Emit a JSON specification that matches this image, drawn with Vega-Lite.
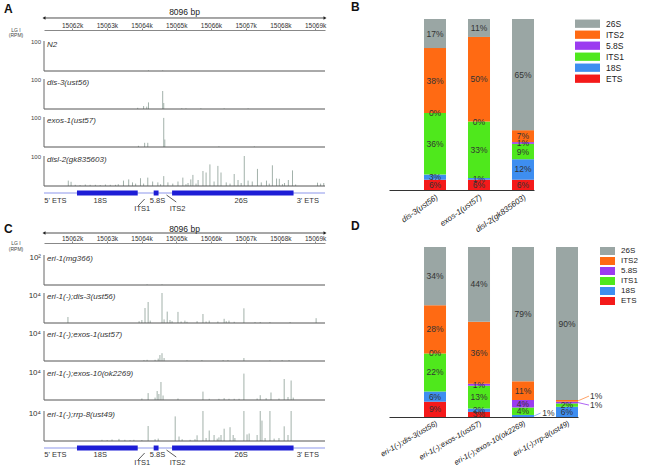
{
"$schema":"https://vega.github.io/schema/vega-lite/v6.json",
"padding":{"left":4,"top":0,"right":0,"bottom":0},
"config":{"view":{"stroke":null},"font":"Liberation Sans","axis":{"labelFont":"Liberation Sans","titleFont":"Liberation Sans"},"legend":{"labelFont":"Liberation Sans"},"title":{"font":"Liberation Sans"}},
"datasets":{
"tr":[
{"t":"A1","p":15064.20,"h":2},{"t":"A1","p":15064.61,"h":2},
{"t":"A2","p":15063.89,"h":4},{"t":"A2","p":15064.06,"h":10},{"t":"A2","p":15064.15,"h":8},{"t":"A2","p":15064.20,"h":22},{"t":"A2","p":15064.61,"h":60},{"t":"A2","p":15064.64,"h":20},{"t":"A2","p":15065.16,"h":2},{"t":"A2","p":15065.28,"h":2},{"t":"A2","p":15065.71,"h":2},{"t":"A2","p":15066.38,"h":2},{"t":"A2","p":15067.07,"h":2},
{"t":"A3","p":15063.91,"h":4},{"t":"A3","p":15064.09,"h":14},{"t":"A3","p":15064.18,"h":14},{"t":"A3","p":15064.64,"h":97},{"t":"A3","p":15064.67,"h":25},{"t":"A3","p":15066.23,"h":2},{"t":"A3","p":15067.25,"h":2},
{"t":"A4","p":15061.89,"h":18},{"t":"A4","p":15061.97,"h":14},{"t":"A4","p":15062.09,"h":4},{"t":"A4","p":15062.23,"h":3},{"t":"A4","p":15062.38,"h":5},{"t":"A4","p":15062.52,"h":4},{"t":"A4","p":15062.67,"h":4},{"t":"A4","p":15062.81,"h":3},{"t":"A4","p":15062.96,"h":5},{"t":"A4","p":15063.10,"h":4},{"t":"A4","p":15063.25,"h":4},{"t":"A4","p":15063.33,"h":6},{"t":"A4","p":15063.48,"h":18},{"t":"A4","p":15063.63,"h":22},{"t":"A4","p":15063.74,"h":12},{"t":"A4","p":15063.83,"h":8},{"t":"A4","p":15063.97,"h":26},{"t":"A4","p":15064.06,"h":8},{"t":"A4","p":15064.18,"h":28},{"t":"A4","p":15064.32,"h":15},{"t":"A4","p":15064.47,"h":12},{"t":"A4","p":15064.55,"h":6},{"t":"A4","p":15064.64,"h":33},{"t":"A4","p":15064.76,"h":12},{"t":"A4","p":15064.90,"h":8},{"t":"A4","p":15065.05,"h":15},{"t":"A4","p":15065.19,"h":28},{"t":"A4","p":15065.28,"h":6},{"t":"A4","p":15065.34,"h":10},{"t":"A4","p":15065.42,"h":22},{"t":"A4","p":15065.48,"h":37},{"t":"A4","p":15065.57,"h":8},{"t":"A4","p":15065.63,"h":20},{"t":"A4","p":15065.77,"h":50},{"t":"A4","p":15065.86,"h":45},{"t":"A4","p":15065.97,"h":72},{"t":"A4","p":15066.09,"h":15},{"t":"A4","p":15066.20,"h":67},{"t":"A4","p":15066.29,"h":45},{"t":"A4","p":15066.44,"h":12},{"t":"A4","p":15066.55,"h":8},{"t":"A4","p":15066.67,"h":40},{"t":"A4","p":15066.78,"h":20},{"t":"A4","p":15066.87,"h":10},{"t":"A4","p":15066.96,"h":100},{"t":"A4","p":15067.07,"h":18},{"t":"A4","p":15067.19,"h":15},{"t":"A4","p":15067.34,"h":57},{"t":"A4","p":15067.45,"h":12},{"t":"A4","p":15067.60,"h":18},{"t":"A4","p":15067.68,"h":8},{"t":"A4","p":15067.77,"h":69},{"t":"A4","p":15067.89,"h":25},{"t":"A4","p":15067.97,"h":24},{"t":"A4","p":15068.06,"h":6},{"t":"A4","p":15068.12,"h":10},{"t":"A4","p":15068.23,"h":20},{"t":"A4","p":15068.35,"h":52},{"t":"A4","p":15068.44,"h":5},{"t":"A4","p":15069.07,"h":11},{"t":"A4","p":15069.16,"h":8},{"t":"A4","p":15069.25,"h":10},
{"t":"C1","p":15064.16,"h":2},{"t":"C1","p":15064.59,"h":2},
{"t":"C2","p":15061.88,"h":20},{"t":"C2","p":15063.93,"h":6},{"t":"C2","p":15064.01,"h":10},{"t":"C2","p":15064.10,"h":50},{"t":"C2","p":15064.19,"h":70},{"t":"C2","p":15064.25,"h":8},{"t":"C2","p":15064.59,"h":100},{"t":"C2","p":15064.65,"h":12},{"t":"C2","p":15064.74,"h":38},{"t":"C2","p":15064.82,"h":10},{"t":"C2","p":15064.88,"h":6},{"t":"C2","p":15065.05,"h":37},{"t":"C2","p":15065.14,"h":5},{"t":"C2","p":15065.25,"h":8},{"t":"C2","p":15065.31,"h":4},{"t":"C2","p":15065.60,"h":6},{"t":"C2","p":15065.77,"h":30},{"t":"C2","p":15065.86,"h":5},{"t":"C2","p":15065.95,"h":8},{"t":"C2","p":15066.20,"h":5},{"t":"C2","p":15066.38,"h":14},{"t":"C2","p":15066.44,"h":6},{"t":"C2","p":15066.52,"h":8},{"t":"C2","p":15066.67,"h":4},{"t":"C2","p":15066.95,"h":49},{"t":"C2","p":15067.27,"h":3},{"t":"C2","p":15067.42,"h":3},{"t":"C2","p":15067.70,"h":3},{"t":"C2","p":15068.28,"h":3},{"t":"C2","p":15069.03,"h":16},
{"t":"C3","p":15064.07,"h":3},{"t":"C3","p":15064.16,"h":4},{"t":"C3","p":15064.39,"h":4},{"t":"C3","p":15064.48,"h":8},{"t":"C3","p":15064.53,"h":20},{"t":"C3","p":15064.59,"h":26},{"t":"C3","p":15064.65,"h":10},{"t":"C3","p":15065.31,"h":2},{"t":"C3","p":15065.74,"h":3},{"t":"C3","p":15066.35,"h":3},{"t":"C3","p":15066.49,"h":3},{"t":"C3","p":15066.95,"h":10},{"t":"C3","p":15067.70,"h":2},{"t":"C3","p":15068.05,"h":3},{"t":"C3","p":15068.25,"h":3},
{"t":"C4","p":15064.01,"h":5},{"t":"C4","p":15064.19,"h":23},{"t":"C4","p":15064.39,"h":8},{"t":"C4","p":15064.45,"h":30},{"t":"C4","p":15064.50,"h":20},{"t":"C4","p":15064.56,"h":60},{"t":"C4","p":15064.62,"h":15},{"t":"C4","p":15065.05,"h":5},{"t":"C4","p":15065.77,"h":28},{"t":"C4","p":15065.95,"h":4},{"t":"C4","p":15066.23,"h":4},{"t":"C4","p":15066.38,"h":6},{"t":"C4","p":15066.52,"h":4},{"t":"C4","p":15066.67,"h":4},{"t":"C4","p":15066.81,"h":4},{"t":"C4","p":15066.95,"h":88},{"t":"C4","p":15067.33,"h":5},{"t":"C4","p":15067.42,"h":16},{"t":"C4","p":15067.59,"h":6},{"t":"C4","p":15067.73,"h":25},{"t":"C4","p":15067.96,"h":5},{"t":"C4","p":15068.11,"h":70},{"t":"C4","p":15068.22,"h":10},{"t":"C4","p":15068.31,"h":65},{"t":"C4","p":15068.37,"h":8},
{"t":"C5","p":15062.86,"h":4},{"t":"C5","p":15063.01,"h":3},{"t":"C5","p":15063.15,"h":5},{"t":"C5","p":15063.35,"h":7},{"t":"C5","p":15063.52,"h":4},{"t":"C5","p":15063.67,"h":3},{"t":"C5","p":15063.78,"h":4},{"t":"C5","p":15064.01,"h":3},{"t":"C5","p":15064.19,"h":50},{"t":"C5","p":15064.39,"h":6},{"t":"C5","p":15064.48,"h":8},{"t":"C5","p":15064.97,"h":82},{"t":"C5","p":15065.08,"h":15},{"t":"C5","p":15065.17,"h":6},{"t":"C5","p":15065.40,"h":4},{"t":"C5","p":15065.54,"h":6},{"t":"C5","p":15065.60,"h":19},{"t":"C5","p":15065.77,"h":100},{"t":"C5","p":15065.86,"h":10},{"t":"C5","p":15065.95,"h":35},{"t":"C5","p":15066.09,"h":20},{"t":"C5","p":15066.18,"h":8},{"t":"C5","p":15066.23,"h":12},{"t":"C5","p":15066.29,"h":20},{"t":"C5","p":15066.38,"h":41},{"t":"C5","p":15066.55,"h":46},{"t":"C5","p":15066.64,"h":20},{"t":"C5","p":15066.69,"h":10},{"t":"C5","p":15066.95,"h":100},{"t":"C5","p":15067.04,"h":22},{"t":"C5","p":15067.10,"h":25},{"t":"C5","p":15067.33,"h":20},{"t":"C5","p":15067.42,"h":100},{"t":"C5","p":15067.47,"h":68},{"t":"C5","p":15067.56,"h":10},{"t":"C5","p":15067.70,"h":100},{"t":"C5","p":15067.82,"h":8},{"t":"C5","p":15067.96,"h":10},{"t":"C5","p":15068.11,"h":49},{"t":"C5","p":15068.22,"h":20},{"t":"C5","p":15068.31,"h":100}
],
"gene":[{"g":"18S","s":15062.14,"e":15063.89},{"g":"5.8S","s":15064.35,"e":15064.49},{"g":"26S","s":15064.88,"e":15068.38}],
"glab":[{"l":"5' ETS","p":15061.52},{"l":"18S","p":15062.81},{"l":"5.8S","p":15064.46},{"l":"26S","p":15066.87},{"l":"3' ETS","p":15068.79}],
"glab2":[{"l":"ITS1","p":15064.02},{"l":"ITS2","p":15065.04}],
"pB":[
{"c":"dis-3(ust56)","s":"ETS","o":1,"v":6},{"c":"dis-3(ust56)","s":"18S","o":2,"v":3},{"c":"dis-3(ust56)","s":"ITS1","o":3,"v":36},{"c":"dis-3(ust56)","s":"5.8S","o":4,"v":0},{"c":"dis-3(ust56)","s":"ITS2","o":5,"v":38},{"c":"dis-3(ust56)","s":"26S","o":6,"v":17},
{"c":"exos-1(ust57)","s":"ETS","o":1,"v":6},{"c":"exos-1(ust57)","s":"18S","o":2,"v":1},{"c":"exos-1(ust57)","s":"ITS1","o":3,"v":33},{"c":"exos-1(ust57)","s":"5.8S","o":4,"v":0},{"c":"exos-1(ust57)","s":"ITS2","o":5,"v":49.5},{"c":"exos-1(ust57)","s":"26S","o":6,"v":10.5},
{"c":"disl-2(gk835603)","s":"ETS","o":1,"v":6},{"c":"disl-2(gk835603)","s":"18S","o":2,"v":12},{"c":"disl-2(gk835603)","s":"ITS1","o":3,"v":9},{"c":"disl-2(gk835603)","s":"5.8S","o":4,"v":1},{"c":"disl-2(gk835603)","s":"ITS2","o":5,"v":7},{"c":"disl-2(gk835603)","s":"26S","o":6,"v":65}
],
"pD":[
{"c":"eri-1(-);dis-3(ust56)","s":"ETS","o":1,"v":9},{"c":"eri-1(-);dis-3(ust56)","s":"18S","o":2,"v":6},{"c":"eri-1(-);dis-3(ust56)","s":"ITS1","o":3,"v":22.4},{"c":"eri-1(-);dis-3(ust56)","s":"5.8S","o":4,"v":0},{"c":"eri-1(-);dis-3(ust56)","s":"ITS2","o":5,"v":28.4},{"c":"eri-1(-);dis-3(ust56)","s":"26S","o":6,"v":34.2},
{"c":"eri-1(-);exos-1(ust57)","s":"ETS","o":1,"v":3},{"c":"eri-1(-);exos-1(ust57)","s":"18S","o":2,"v":2},{"c":"eri-1(-);exos-1(ust57)","s":"ITS1","o":3,"v":13.4},{"c":"eri-1(-);exos-1(ust57)","s":"5.8S","o":4,"v":1.2},{"c":"eri-1(-);exos-1(ust57)","s":"ITS2","o":5,"v":36.4},{"c":"eri-1(-);exos-1(ust57)","s":"26S","o":6,"v":44},
{"c":"eri-1(-);exos-10(ok2269)","s":"18S","o":2,"v":1.2},{"c":"eri-1(-);exos-10(ok2269)","s":"ITS1","o":3,"v":4.4},{"c":"eri-1(-);exos-10(ok2269)","s":"5.8S","o":4,"v":4.4},{"c":"eri-1(-);exos-10(ok2269)","s":"ITS2","o":5,"v":11},{"c":"eri-1(-);exos-10(ok2269)","s":"26S","o":6,"v":79},
{"c":"eri-1(-);rrp-8(ust49)","s":"18S","o":2,"v":6},{"c":"eri-1(-);rrp-8(ust49)","s":"ITS1","o":3,"v":2},{"c":"eri-1(-);rrp-8(ust49)","s":"5.8S","o":4,"v":1},{"c":"eri-1(-);rrp-8(ust49)","s":"ITS2","o":5,"v":1},{"c":"eri-1(-);rrp-8(ust49)","s":"26S","o":6,"v":90}
]
},
"spacing":24,
"hconcat":[
{"vconcat":[
{"width":281,"height":69,"layer":[
 {"data":{"name":"tr"},"transform":[{"filter":"datum.t === 'A1'"}],"mark":{"type":"rule","color":"#a2b1aa","strokeWidth":1},"encoding":{"x":{"field":"p","type":"quantitative","scale":{"domain":[15061.19,15069.286],"nice":false,"zero":false},"axis":{"orient":"top","offset":-28,"values":[15062,15063,15064,15065,15066,15067,15068,15069],"labelExpr":"datum.value + 'k'","labelFontSize":6.5,"labelColor":"#333","tickSize":2,"labelPadding":0,"domainColor":"#888","tickColor":"#888","title":null,"grid":false,"labelFlush":false,"labelOverlap":false}},"y":{"field":"h","type":"quantitative","scale":{"domain":[0,230],"nice":false},"axis":null},"y2":{"datum":0}}},
 {"data":{"values":[{}]},"mark":{"type":"rule","color":"#555","strokeWidth":1},"encoding":{"x":{"datum":15061.19},"x2":{"datum":15069.286},"y":{"datum":0}}},
 {"data":{"values":[{}]},"mark":{"type":"rule","color":"#666","strokeWidth":1},"encoding":{"x":{"datum":15061.19},"y":{"datum":0},"y2":{"datum":100}}},
 {"data":{"values":[{}]},"mark":{"type":"text","align":"left","baseline":"top","fontStyle":"italic","fontSize":8,"dx":3,"color":"#333"},"encoding":{"x":{"datum":15061.19},"y":{"datum":100},"text":{"value":"N2"}}},
 {"data":{"values":[{}]},"mark":{"type":"text","align":"right","baseline":"middle","fontSize":6,"dx":-3,"dy":1,"color":"#444"},"encoding":{"x":{"datum":15061.19},"y":{"datum":100},"text":{"value":"100"}}},
 {"data":{"values":[{}]},"mark":{"type":"rule","color":"#222","strokeWidth":0.8},"encoding":{"x":{"datum":15061.19},"x2":{"datum":15069.286},"y":{"datum":176.7}}},
 {"data":{"values":[{}]},"mark":{"type":"point","shape":"triangle-left","filled":true,"color":"#222","size":12,"opacity":1},"encoding":{"x":{"datum":15061.19},"y":{"datum":176.7}}},
 {"data":{"values":[{}]},"mark":{"type":"point","shape":"triangle-right","filled":true,"color":"#222","size":12,"opacity":1},"encoding":{"x":{"datum":15069.286},"y":{"datum":176.7}}},
 {"data":{"values":[{}]},"mark":{"type":"text","fontSize":8.5,"color":"#222"},"encoding":{"x":{"datum":15065.238},"y":{"datum":196.7},"text":{"value":"8096 bp"}}},
 {"data":{"values":[{}]},"mark":{"type":"text","fontSize":12,"fontWeight":"bold","align":"left","dx":-40,"color":"#111"},"encoding":{"x":{"datum":15061.19},"y":{"datum":206.7},"text":{"value":"A"}}},
 {"data":{"values":[{}]},"mark":{"type":"text","fontSize":5,"dx":-28,"color":"#444"},"encoding":{"x":{"datum":15061.19},"y":{"datum":136.7},"text":{"value":"LG I"}}},
 {"data":{"values":[{}]},"mark":{"type":"text","fontSize":5,"dx":-28,"color":"#444"},"encoding":{"x":{"datum":15061.19},"y":{"datum":120},"text":{"value":"(RPM)"}}}
]},
{"width":281,"height":38,"layer":[
 {"data":{"name":"tr"},"transform":[{"filter":"datum.t === 'A2'"}],"mark":{"type":"rule","color":"#a2b1aa","strokeWidth":1},"encoding":{"x":{"field":"p","type":"quantitative","scale":{"domain":[15061.19,15069.286],"nice":false,"zero":false},"axis":null},"y":{"field":"h","type":"quantitative","scale":{"domain":[0,126.67],"nice":false},"axis":null},"y2":{"datum":0}}},
 {"data":{"values":[{}]},"mark":{"type":"rule","color":"#555","strokeWidth":1},"encoding":{"x":{"datum":15061.19},"x2":{"datum":15069.286},"y":{"datum":0}}},
 {"data":{"values":[{}]},"mark":{"type":"rule","color":"#666","strokeWidth":1},"encoding":{"x":{"datum":15061.19},"y":{"datum":0},"y2":{"datum":100}}},
 {"data":{"values":[{}]},"mark":{"type":"text","align":"left","baseline":"top","fontStyle":"italic","fontSize":8,"dx":3,"color":"#333"},"encoding":{"x":{"datum":15061.19},"y":{"datum":100},"text":{"value":"dis-3(ust56)"}}},
 {"data":{"values":[{}]},"mark":{"type":"text","align":"right","baseline":"middle","fontSize":6,"dx":-3,"dy":1,"color":"#444"},"encoding":{"x":{"datum":15061.19},"y":{"datum":100},"text":{"value":"100"}}}
]},
{"width":281,"height":38,"layer":[
 {"data":{"name":"tr"},"transform":[{"filter":"datum.t === 'A3'"}],"mark":{"type":"rule","color":"#a2b1aa","strokeWidth":1},"encoding":{"x":{"field":"p","type":"quantitative","scale":{"domain":[15061.19,15069.286],"nice":false,"zero":false},"axis":null},"y":{"field":"h","type":"quantitative","scale":{"domain":[0,126.67],"nice":false},"axis":null},"y2":{"datum":0}}},
 {"data":{"values":[{}]},"mark":{"type":"rule","color":"#555","strokeWidth":1},"encoding":{"x":{"datum":15061.19},"x2":{"datum":15069.286},"y":{"datum":0}}},
 {"data":{"values":[{}]},"mark":{"type":"rule","color":"#666","strokeWidth":1},"encoding":{"x":{"datum":15061.19},"y":{"datum":0},"y2":{"datum":100}}},
 {"data":{"values":[{}]},"mark":{"type":"text","align":"left","baseline":"top","fontStyle":"italic","fontSize":8,"dx":3,"color":"#333"},"encoding":{"x":{"datum":15061.19},"y":{"datum":100},"text":{"value":"exos-1(ust57)"}}},
 {"data":{"values":[{}]},"mark":{"type":"text","align":"right","baseline":"middle","fontSize":6,"dx":-3,"dy":1,"color":"#444"},"encoding":{"x":{"datum":15061.19},"y":{"datum":100},"text":{"value":"100"}}}
]},
{"width":281,"height":39,"layer":[
 {"data":{"name":"tr"},"transform":[{"filter":"datum.t === 'A4'"}],"mark":{"type":"rule","color":"#a2b1aa","strokeWidth":1},"encoding":{"x":{"field":"p","type":"quantitative","scale":{"domain":[15061.19,15069.286],"nice":false,"zero":false},"axis":null},"y":{"field":"h","type":"quantitative","scale":{"domain":[0,130],"nice":false},"axis":null},"y2":{"datum":0}}},
 {"data":{"values":[{}]},"mark":{"type":"rule","color":"#555","strokeWidth":1},"encoding":{"x":{"datum":15061.19},"x2":{"datum":15069.286},"y":{"datum":0}}},
 {"data":{"values":[{}]},"mark":{"type":"rule","color":"#666","strokeWidth":1},"encoding":{"x":{"datum":15061.19},"y":{"datum":0},"y2":{"datum":100}}},
 {"data":{"values":[{}]},"mark":{"type":"text","align":"left","baseline":"top","fontStyle":"italic","fontSize":8,"dx":3,"color":"#333"},"encoding":{"x":{"datum":15061.19},"y":{"datum":100},"text":{"value":"disl-2(gk835603)"}}},
 {"data":{"values":[{}]},"mark":{"type":"text","align":"right","baseline":"middle","fontSize":6,"dx":-3,"dy":1,"color":"#444"},"encoding":{"x":{"datum":15061.19},"y":{"datum":100},"text":{"value":"100"}}}
]},
{"width":281,"height":34,"layer":[
 {"data":{"values":[{}]},"mark":{"type":"rule","color":"#b3baf2","strokeWidth":1.5},"encoding":{"x":{"datum":15061.19,"type":"quantitative","scale":{"domain":[15061.19,15069.286],"nice":false,"zero":false},"axis":null},"x2":{"datum":15069.286},"y":{"datum":7,"type":"quantitative","scale":{"domain":[0,34],"nice":false,"reverse":true},"axis":null}}},
 {"data":{"name":"gene"},"mark":{"type":"rule","color":"#1d1dd6","strokeWidth":5},"encoding":{"x":{"field":"s","type":"quantitative"},"x2":{"field":"e"},"y":{"datum":7}}},
 {"data":{"name":"glab"},"mark":{"type":"text","fontSize":7.5,"color":"#333"},"encoding":{"x":{"field":"p","type":"quantitative"},"y":{"datum":15},"text":{"field":"l"}}},
 {"data":{"name":"glab2"},"mark":{"type":"text","fontSize":7.5,"color":"#333"},"encoding":{"x":{"field":"p","type":"quantitative"},"y":{"datum":23},"text":{"field":"l"}}},
 {"data":{"values":[{}]},"mark":{"type":"rule","color":"#333","strokeWidth":0.8},"encoding":{"x":{"datum":15063.90},"x2":{"datum":15064.09},"y":{"datum":20},"y2":{"datum":13}}},
 {"data":{"values":[{}]},"mark":{"type":"rule","color":"#333","strokeWidth":0.8},"encoding":{"x":{"datum":15064.72},"x2":{"datum":15065.0},"y":{"datum":9},"y2":{"datum":16}}}
]},
{"width":281,"height":65,"layer":[
 {"data":{"name":"tr"},"transform":[{"filter":"datum.t === 'C1'"}],"mark":{"type":"rule","color":"#a2b1aa","strokeWidth":1},"encoding":{"x":{"field":"p","type":"quantitative","scale":{"domain":[15061.19,15069.286],"nice":false,"zero":false},"axis":{"orient":"top","offset":-23,"values":[15062,15063,15064,15065,15066,15067,15068,15069],"labelExpr":"datum.value + 'k'","labelFontSize":6.5,"labelColor":"#333","tickSize":2,"labelPadding":0,"domainColor":"#888","tickColor":"#888","title":null,"grid":false,"labelFlush":false,"labelOverlap":false}},"y":{"field":"h","type":"quantitative","scale":{"domain":[0,216.67],"nice":false},"axis":null},"y2":{"datum":0}}},
 {"data":{"values":[{}]},"mark":{"type":"rule","color":"#555","strokeWidth":1},"encoding":{"x":{"datum":15061.19},"x2":{"datum":15069.286},"y":{"datum":0}}},
 {"data":{"values":[{}]},"mark":{"type":"rule","color":"#666","strokeWidth":1},"encoding":{"x":{"datum":15061.19},"y":{"datum":0},"y2":{"datum":100}}},
 {"data":{"values":[{}]},"mark":{"type":"text","align":"left","baseline":"top","fontStyle":"italic","fontSize":8,"dx":3,"color":"#333"},"encoding":{"x":{"datum":15061.19},"y":{"datum":100},"text":{"value":"eri-1(mg366)"}}},
 {"data":{"values":[{}]},"mark":{"type":"text","align":"right","baseline":"middle","fontSize":8,"dx":-3,"dy":3,"color":"#333"},"encoding":{"x":{"datum":15061.19},"y":{"datum":100},"text":{"value":"10²"}}},
 {"data":{"values":[{}]},"mark":{"type":"rule","color":"#222","strokeWidth":0.8},"encoding":{"x":{"datum":15061.19},"x2":{"datum":15069.286},"y":{"datum":173.3}}},
 {"data":{"values":[{}]},"mark":{"type":"point","shape":"triangle-left","filled":true,"color":"#222","size":12,"opacity":1},"encoding":{"x":{"datum":15061.19},"y":{"datum":173.3}}},
 {"data":{"values":[{}]},"mark":{"type":"point","shape":"triangle-right","filled":true,"color":"#222","size":12,"opacity":1},"encoding":{"x":{"datum":15069.286},"y":{"datum":173.3}}},
 {"data":{"values":[{}]},"mark":{"type":"text","fontSize":8.5,"color":"#222"},"encoding":{"x":{"datum":15065.238},"y":{"datum":188},"text":{"value":"8096 bp"}}},
 {"data":{"values":[{}]},"mark":{"type":"text","fontSize":12,"fontWeight":"bold","align":"left","dx":-40,"color":"#111"},"encoding":{"x":{"datum":15061.19},"y":{"datum":186.7},"text":{"value":"C"}}},
 {"data":{"values":[{}]},"mark":{"type":"text","fontSize":5,"dx":-28,"color":"#444"},"encoding":{"x":{"datum":15061.19},"y":{"datum":140},"text":{"value":"LG I"}}},
 {"data":{"values":[{}]},"mark":{"type":"text","fontSize":5,"dx":-28,"color":"#444"},"encoding":{"x":{"datum":15061.19},"y":{"datum":120},"text":{"value":"(RPM)"}}}
]},
{"width":281,"height":38,"layer":[
 {"data":{"name":"tr"},"transform":[{"filter":"datum.t === 'C2'"}],"mark":{"type":"rule","color":"#a2b1aa","strokeWidth":1},"encoding":{"x":{"field":"p","type":"quantitative","scale":{"domain":[15061.19,15069.286],"nice":false,"zero":false},"axis":null},"y":{"field":"h","type":"quantitative","scale":{"domain":[0,126.67],"nice":false},"axis":null},"y2":{"datum":0}}},
 {"data":{"values":[{}]},"mark":{"type":"rule","color":"#555","strokeWidth":1},"encoding":{"x":{"datum":15061.19},"x2":{"datum":15069.286},"y":{"datum":0}}},
 {"data":{"values":[{}]},"mark":{"type":"rule","color":"#666","strokeWidth":1},"encoding":{"x":{"datum":15061.19},"y":{"datum":0},"y2":{"datum":100}}},
 {"data":{"values":[{}]},"mark":{"type":"text","align":"left","baseline":"top","fontStyle":"italic","fontSize":8,"dx":3,"color":"#333"},"encoding":{"x":{"datum":15061.19},"y":{"datum":100},"text":{"value":"eri-1(-);dis-3(ust56)"}}},
 {"data":{"values":[{}]},"mark":{"type":"text","align":"right","baseline":"middle","fontSize":8,"dx":-3,"dy":3,"color":"#333"},"encoding":{"x":{"datum":15061.19},"y":{"datum":100},"text":{"value":"10⁴"}}}
]},
{"width":281,"height":38,"layer":[
 {"data":{"name":"tr"},"transform":[{"filter":"datum.t === 'C3'"}],"mark":{"type":"rule","color":"#a2b1aa","strokeWidth":1},"encoding":{"x":{"field":"p","type":"quantitative","scale":{"domain":[15061.19,15069.286],"nice":false,"zero":false},"axis":null},"y":{"field":"h","type":"quantitative","scale":{"domain":[0,126.67],"nice":false},"axis":null},"y2":{"datum":0}}},
 {"data":{"values":[{}]},"mark":{"type":"rule","color":"#555","strokeWidth":1},"encoding":{"x":{"datum":15061.19},"x2":{"datum":15069.286},"y":{"datum":0}}},
 {"data":{"values":[{}]},"mark":{"type":"rule","color":"#666","strokeWidth":1},"encoding":{"x":{"datum":15061.19},"y":{"datum":0},"y2":{"datum":100}}},
 {"data":{"values":[{}]},"mark":{"type":"text","align":"left","baseline":"top","fontStyle":"italic","fontSize":8,"dx":3,"color":"#333"},"encoding":{"x":{"datum":15061.19},"y":{"datum":100},"text":{"value":"eri-1(-);exos-1(ust57)"}}},
 {"data":{"values":[{}]},"mark":{"type":"text","align":"right","baseline":"middle","fontSize":8,"dx":-3,"dy":3,"color":"#333"},"encoding":{"x":{"datum":15061.19},"y":{"datum":100},"text":{"value":"10⁴"}}}
]},
{"width":281,"height":39,"layer":[
 {"data":{"name":"tr"},"transform":[{"filter":"datum.t === 'C4'"}],"mark":{"type":"rule","color":"#a2b1aa","strokeWidth":1},"encoding":{"x":{"field":"p","type":"quantitative","scale":{"domain":[15061.19,15069.286],"nice":false,"zero":false},"axis":null},"y":{"field":"h","type":"quantitative","scale":{"domain":[0,130],"nice":false},"axis":null},"y2":{"datum":0}}},
 {"data":{"values":[{}]},"mark":{"type":"rule","color":"#555","strokeWidth":1},"encoding":{"x":{"datum":15061.19},"x2":{"datum":15069.286},"y":{"datum":0}}},
 {"data":{"values":[{}]},"mark":{"type":"rule","color":"#666","strokeWidth":1},"encoding":{"x":{"datum":15061.19},"y":{"datum":0},"y2":{"datum":100}}},
 {"data":{"values":[{}]},"mark":{"type":"text","align":"left","baseline":"top","fontStyle":"italic","fontSize":8,"dx":3,"color":"#333"},"encoding":{"x":{"datum":15061.19},"y":{"datum":100},"text":{"value":"eri-1(-);exos-10(ok2269)"}}},
 {"data":{"values":[{}]},"mark":{"type":"text","align":"right","baseline":"middle","fontSize":8,"dx":-3,"dy":3,"color":"#333"},"encoding":{"x":{"datum":15061.19},"y":{"datum":100},"text":{"value":"10⁴"}}}
]},
{"width":281,"height":41,"layer":[
 {"data":{"name":"tr"},"transform":[{"filter":"datum.t === 'C5'"}],"mark":{"type":"rule","color":"#a2b1aa","strokeWidth":1},"encoding":{"x":{"field":"p","type":"quantitative","scale":{"domain":[15061.19,15069.286],"nice":false,"zero":false},"axis":null},"y":{"field":"h","type":"quantitative","scale":{"domain":[0,136.67],"nice":false},"axis":null},"y2":{"datum":0}}},
 {"data":{"values":[{}]},"mark":{"type":"rule","color":"#555","strokeWidth":1},"encoding":{"x":{"datum":15061.19},"x2":{"datum":15069.286},"y":{"datum":0}}},
 {"data":{"values":[{}]},"mark":{"type":"rule","color":"#666","strokeWidth":1},"encoding":{"x":{"datum":15061.19},"y":{"datum":0},"y2":{"datum":100}}},
 {"data":{"values":[{}]},"mark":{"type":"text","align":"left","baseline":"top","fontStyle":"italic","fontSize":8,"dx":3,"color":"#333"},"encoding":{"x":{"datum":15061.19},"y":{"datum":100},"text":{"value":"eri-1(-);rrp-8(ust49)"}}},
 {"data":{"values":[{}]},"mark":{"type":"text","align":"right","baseline":"middle","fontSize":8,"dx":-3,"dy":3,"color":"#333"},"encoding":{"x":{"datum":15061.19},"y":{"datum":100},"text":{"value":"10⁴"}}}
]},
{"width":281,"height":30,"layer":[
 {"data":{"values":[{}]},"mark":{"type":"rule","color":"#b3baf2","strokeWidth":1.5},"encoding":{"x":{"datum":15061.19,"type":"quantitative","scale":{"domain":[15061.19,15069.286],"nice":false,"zero":false},"axis":null},"x2":{"datum":15069.286},"y":{"datum":7,"type":"quantitative","scale":{"domain":[0,30],"nice":false,"reverse":true},"axis":null}}},
 {"data":{"name":"gene"},"mark":{"type":"rule","color":"#1d1dd6","strokeWidth":5},"encoding":{"x":{"field":"s","type":"quantitative"},"x2":{"field":"e"},"y":{"datum":7}}},
 {"data":{"name":"glab"},"mark":{"type":"text","fontSize":7.5,"color":"#333"},"encoding":{"x":{"field":"p","type":"quantitative"},"y":{"datum":14},"text":{"field":"l"}}},
 {"data":{"name":"glab2"},"mark":{"type":"text","fontSize":7.5,"color":"#333"},"encoding":{"x":{"field":"p","type":"quantitative"},"y":{"datum":22},"text":{"field":"l"}}},
 {"data":{"values":[{}]},"mark":{"type":"rule","color":"#333","strokeWidth":0.8},"encoding":{"x":{"datum":15063.90},"x2":{"datum":15064.09},"y":{"datum":19},"y2":{"datum":12}}},
 {"data":{"values":[{}]},"mark":{"type":"rule","color":"#333","strokeWidth":0.8},"encoding":{"x":{"datum":15064.72},"x2":{"datum":15065.0},"y":{"datum":9},"y2":{"datum":16}}}
]}
],"spacing":0,"bounds":"flush"},
{"vconcat":[
{"width":145,"height":17,"data":{"values":[]},"mark":"point","encoding":{}},
{"width":145,"height":171,
 "title":{"text":"B","anchor":"start","frame":"group","fontSize":12,"fontWeight":"bold","dx":-38,"offset":5,"color":"#111"},
 "data":{"name":"pB"},
 "transform":[{"stack":"v","groupby":["c"],"sort":[{"field":"o"}],"as":["v0","v1"]},{"calculate":"(datum.v0+datum.v1)/2","as":"vm"},{"calculate":"format(datum.v,'.0f') + '%'","as":"lab"}],
 "encoding":{"x":{"field":"c","type":"nominal","sort":null,"scale":{"paddingInner":0.5,"paddingOuter":0.398,"align":1},"axis":{"title":null,"labelAngle":-35,"labelAlign":"right","labelBaseline":"top","labelFontStyle":"italic","labelFontSize":8,"labelColor":"#222","ticks":false,"domainColor":"#333","labelPadding":3}}},
 "layer":[
  {"mark":{"type":"bar"},"encoding":{"y":{"field":"v0","type":"quantitative","scale":{"domain":[0,100],"nice":false},"axis":{"values":[0,10,20,30,40,50,60,70,80,90,100],"labelExpr":"datum.value % 20 === 0 ? datum.label : ''","tickSize":{"condition":{"test":"datum.value % 20 === 0","value":4},"value":2},"labelFontSize":9,"labelColor":"#222","domainColor":"#333","tickColor":"#333","grid":false,"title":"(%)","titleAngle":0,"titleX":-2,"titleY":-10,"titleAlign":"center","titleBaseline":"middle","titleFontSize":8,"titleFontWeight":"normal","titleColor":"#222","labelPadding":2}},"y2":{"field":"v1"},
   "color":{"field":"s","type":"nominal","scale":{"domain":["26S","ITS2","5.8S","ITS1","18S","ETS"],"range":["#9aa6a4","#ff6a13","#9b3cf0","#4fe81c","#3e8ef0","#f41a1a"]},"legend":{"orient":"none","legendX":193.5,"legendY":-0.3,"title":null,"symbolType":"M-2.5,-0.83H2.5V0.83H-2.5Z","symbolSize":100,"symbolStrokeWidth":0,"labelFontSize":8.5,"labelColor":"#222","rowPadding":1,"labelOffset":13.5,"padding":0}}}},
  {"mark":{"type":"text","fontSize":8.5,"color":"#333"},"encoding":{"y":{"field":"vm","type":"quantitative","axis":null},"text":{"field":"lab"}}}
 ]},
{"width":145,"height":57,"data":{"values":[]},"mark":"point","encoding":{}},
{"width":189,"height":170,
 "title":{"text":"D","anchor":"start","frame":"group","fontSize":12,"fontWeight":"bold","dx":-38,"offset":13,"color":"#111"},
 "data":{"name":"pD"},
 "transform":[{"stack":"v","groupby":["c"],"sort":[{"field":"o"}],"as":["v0","v1"]},{"calculate":"(datum.v0+datum.v1)/2","as":"vm"},{"calculate":"format(datum.v,'.0f') + '%'","as":"lab"}],
 "encoding":{"x":{"field":"c","type":"nominal","sort":null,"scale":{"paddingInner":0.5,"paddingOuter":0.398,"align":1},"axis":{"title":null,"labelAngle":-30,"labelAlign":"right","labelBaseline":"top","labelFontStyle":"italic","labelFontSize":7.5,"labelColor":"#222","ticks":false,"domainColor":"#333","labelPadding":2}}},
 "layer":[
  {"mark":{"type":"bar"},"encoding":{"y":{"field":"v0","type":"quantitative","scale":{"domain":[0,100],"nice":false},"axis":{"offset":-10,"values":[0,10,20,30,40,50,60,70,80,90,100],"labelExpr":"datum.value % 20 === 0 ? datum.label : ''","tickSize":{"condition":{"test":"datum.value % 20 === 0","value":4},"value":2},"labelFontSize":9,"labelColor":"#222","domainColor":"#333","tickColor":"#333","grid":false,"title":"(%)","titleAngle":0,"titleX":-18,"titleY":-8,"titleAlign":"center","titleBaseline":"middle","titleFontSize":8,"titleFontWeight":"normal","titleColor":"#222","labelPadding":2}},"y2":{"field":"v1"},
   "color":{"field":"s","type":"nominal","scale":{"domain":["26S","ITS2","5.8S","ITS1","18S","ETS"],"range":["#9aa6a4","#ff6a13","#9b3cf0","#4fe81c","#3e8ef0","#f41a1a"]},"legend":{"orient":"none","legendX":213.5,"legendY":-1,"title":null,"symbolType":"M-1.5,-0.8H1.5V0.8H-1.5Z","symbolSize":100,"symbolStrokeWidth":0,"labelFontSize":8,"labelColor":"#222","rowPadding":1,"labelOffset":8.5,"padding":0}}}},
  {"transform":[{"filter":"!((datum.c === 'eri-1(-);exos-10(ok2269)' && datum.s === '18S') || (datum.c === 'eri-1(-);rrp-8(ust49)' && (datum.s === '5.8S' || datum.s === 'ITS2')))"}],"mark":{"type":"text","fontSize":8.5,"color":"#333"},"encoding":{"y":{"field":"vm","type":"quantitative","axis":null},"text":{"field":"lab"}}},
  {"data":{"values":[{}]},"mark":{"type":"rule","strokeWidth":0.8,"color":"#6fa8f0"},"encoding":{"x":{"datum":"eri-1(-);exos-10(ok2269)","bandPosition":1},"x2":{"datum":"eri-1(-);exos-10(ok2269)","bandPosition":1.3},"y":{"datum":0.6},"y2":{"datum":2.3}}},
  {"data":{"values":[{}]},"mark":{"type":"text","fontSize":8.5,"color":"#333","align":"left"},"encoding":{"x":{"datum":"eri-1(-);exos-10(ok2269)","bandPosition":1.38},"y":{"datum":2.3},"text":{"value":"1%"}}},
  {"data":{"values":[{}]},"mark":{"type":"rule","strokeWidth":0.8,"color":"#ff8a40"},"encoding":{"x":{"datum":"eri-1(-);rrp-8(ust49)","bandPosition":1},"x2":{"datum":"eri-1(-);rrp-8(ust49)","bandPosition":1.5},"y":{"datum":9.5},"y2":{"datum":12.3}}},
  {"data":{"values":[{}]},"mark":{"type":"text","fontSize":8.5,"color":"#333","align":"left"},"encoding":{"x":{"datum":"eri-1(-);rrp-8(ust49)","bandPosition":1.55},"y":{"datum":12.3},"text":{"value":"1%"}}},
  {"data":{"values":[{}]},"mark":{"type":"rule","strokeWidth":0.8,"color":"#9b3cf0"},"encoding":{"x":{"datum":"eri-1(-);rrp-8(ust49)","bandPosition":1},"x2":{"datum":"eri-1(-);rrp-8(ust49)","bandPosition":1.5},"y":{"datum":8.5},"y2":{"datum":7.0}}},
  {"data":{"values":[{}]},"mark":{"type":"text","fontSize":8.5,"color":"#333","align":"left"},"encoding":{"x":{"datum":"eri-1(-);rrp-8(ust49)","bandPosition":1.55},"y":{"datum":7.0},"text":{"value":"1%"}}}
 ]}
],"spacing":0,"bounds":"flush","resolve":{"scale":{"color":"independent"},"legend":{"color":"independent"}}}
]
}
